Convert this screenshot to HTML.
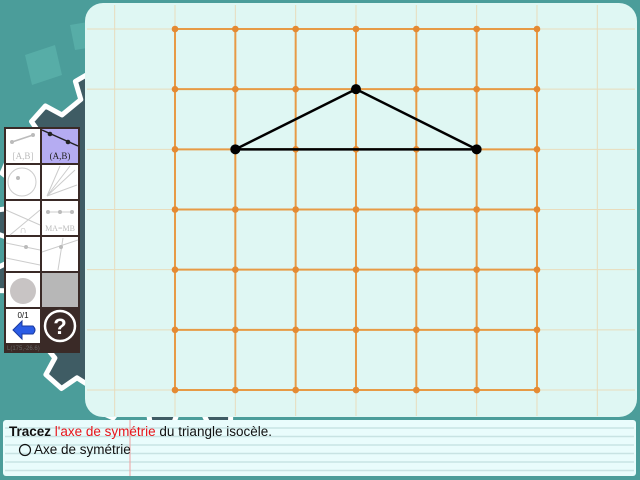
<!DOCTYPE html>
<html><head><meta charset="utf-8">
<style>
html,body{margin:0;padding:0;width:640px;height:480px;overflow:hidden;background:#4a9c9a;font-family:"Liberation Sans",sans-serif}
svg{display:block;overflow:hidden}
</style></head>
<body>
<svg id="root" width="640" height="480" xmlns="http://www.w3.org/2000/svg">
  <rect x="0" y="0" width="640" height="480" fill="#4b9d9a"/>
  <polygon points="25,55 55,45 62,75 32,85" fill="#5cb3ad" opacity="0.7"/>
  <polygon points="70,25 100,20 105,45 75,50" fill="#5cb3ad" opacity="0.7"/>
  <path id="gear" fill="#3f5c64" stroke="#fff" stroke-width="5" stroke-linejoin="round"/>
  <rect x="85" y="3" width="552" height="414" rx="18" fill="#dff7f3"/>
  <g id="grid"></g>
  <g id="tri"></g>

  <g>
    <rect x="4" y="127" width="76" height="226" fill="#3a2a27"/>
    <rect x="6" y="129" width="34" height="34" fill="#fff"/>
    <line x1="12" y1="142" x2="33" y2="135" stroke="#bbb" stroke-width="1.5"/>
    <circle cx="12" cy="142" r="2" fill="#bbb"/><circle cx="33" cy="135" r="2" fill="#bbb"/>
    <text x="23" y="159" font-size="9" fill="#bbb" text-anchor="middle" font-family="Liberation Serif,serif">[A,B]</text>
    <rect x="42" y="129" width="36" height="34" fill="#b5acf2"/>
    <line x1="42" y1="130" x2="78" y2="146" stroke="#222" stroke-width="1.5"/>
    <circle cx="50" cy="134" r="2.3" fill="#222"/><circle cx="68" cy="142" r="2.3" fill="#222"/>
    <text x="60" y="159" font-size="9" fill="#222" text-anchor="middle" font-family="Liberation Serif,serif">(A,B)</text>
    <rect x="6" y="165" width="34" height="34" fill="#fff"/>
    <circle cx="22" cy="182" r="14" fill="none" stroke="#ccc"/><circle cx="18" cy="178" r="2" fill="#bbb"/>
    <rect x="42" y="165" width="36" height="34" fill="#fff"/>
    <path d="M47 196 L75 170 M47 196 L70 166 M47 196 L77 185 M47 196 L60 166" stroke="#ccc" fill="none"/>
    <rect x="6" y="201" width="34" height="34" fill="#fff"/>
    <path d="M6 210 L40 225 M10 235 L40 210" stroke="#ccc"/><text x="23" y="233" font-size="10" fill="#bbb" text-anchor="middle">∩</text>
    <rect x="42" y="201" width="36" height="34" fill="#fff"/>
    <line x1="46" y1="212" x2="74" y2="212" stroke="#ccc"/><circle cx="48" cy="212" r="2" fill="#bbb"/><circle cx="60" cy="212" r="2" fill="#bbb"/><circle cx="72" cy="212" r="2" fill="#bbb"/>
    <text x="60" y="231" font-size="8" fill="#bbb" text-anchor="middle" font-family="Liberation Serif,serif">MA=MB</text>
    <rect x="6" y="237" width="34" height="34" fill="#fff"/>
    <path d="M6 243 L40 250 M6 258 L40 265" stroke="#ccc"/><circle cx="26" cy="247" r="2" fill="#bbb"/>
    <rect x="42" y="237" width="36" height="34" fill="#fff"/>
    <path d="M42 252 L78 240 M58 270 L63 238" stroke="#ccc"/><circle cx="61" cy="247" r="2" fill="#bbb"/>
    <rect x="6" y="273" width="34" height="34" fill="#fff"/>
    <circle cx="23" cy="291" r="13" fill="#c8c4c4"/>
    <rect x="42" y="273" width="36" height="34" fill="#b7b7b7"/>
    <rect x="6" y="309" width="34" height="34" fill="#fff"/>
    <text x="23" y="318" font-size="8" fill="#111" text-anchor="middle">0/1</text>
    <path d="M13 330 L22 321 L22 326 L33 326 Q37 330 33 334 L22 334 L22 339 Z" fill="#2b5ce6" stroke="#1a3aa0" stroke-width="1"/>
    <circle cx="60" cy="326" r="15" fill="none" stroke="#fff" stroke-width="2.5"/>
    <text x="60" y="334" font-size="22" font-weight="bold" fill="#fff" text-anchor="middle">?</text>
    <text x="7" y="350" font-size="6" fill="#666">L(175,-26.6)</text>
  </g>

  <g>
    <rect x="3" y="420" width="633" height="56" rx="3" fill="#e9fcfc"/>
    <g id="ruled" stroke="#c8e3e3" stroke-width="1.5"></g>
    <line x1="130" y1="420" x2="130" y2="476" stroke="#f0a0a0" stroke-width="1"/>
    <text x="9" y="436" font-size="13.5" fill="#111"><tspan font-weight="bold">Tracez</tspan> <tspan fill="#e8141a">l'axe de symétrie</tspan> du triangle isocèle.</text>
    <circle cx="25" cy="450" r="5.5" fill="none" stroke="#111" stroke-width="1.2"/>
    <text x="34" y="454" font-size="13.5" fill="#111">Axe de symétrie</text>
  </g>
</svg>
<script>
const gridCols = [0,1,2,3,4,5,6];
const gridRows = [0,1,2,3,4,5,6];
const triX = [1,3,5];
const triY = [2,1,2];
const ns = "http://www.w3.org/2000/svg";
const X = c => 175 + c*60.33;
const Y = r => 29 + r*60.17;
function mk(tag, attrs, parent){const e=document.createElementNS(ns,tag);for(const k in attrs)e.setAttribute(k,attrs[k]);parent.appendChild(e);return e;}
function gearPath(cx,cy,ro,ri,n,rot){let d='';for(let i=0;i<n;i++){const a=rot+i*2*Math.PI/n,s=Math.PI/n;
const pts=[[ri,a-s*0.55],[ro,a-s*0.35],[ro,a+s*0.35],[ri,a+s*0.55]];
pts.forEach((p,j)=>{d+=(i===0&&j===0?'M':'L')+(cx+p[0]*Math.cos(p[1])).toFixed(1)+' '+(cy+p[0]*Math.sin(p[1])).toFixed(1)+' ';});}
return d+'Z';}
document.getElementById('gear').setAttribute('d',gearPath(180,240,190,172,20,0.1));
const g = document.getElementById('grid');
for (let c=-1;c<=7;c++){const l=mk('line',{x1:X(c),y1:5,x2:X(c),y2:416,stroke:'#e8dcbc','stroke-width':1},g);

}
for (let r=-1;r<=7;r++){const l=mk('line',{x1:87,y1:Y(r),x2:635,y2:Y(r),stroke:'#e8dcbc','stroke-width':1},g);

}
gridCols.forEach(c=>{const l=mk('line',{x1:X(c),y1:Y(0),x2:X(c),y2:Y(6),stroke:'#e79a45','stroke-width':2},g);

});
gridRows.forEach(r=>{const l=mk('line',{x1:X(0),y1:Y(r),x2:X(6),y2:Y(r),stroke:'#e79a45','stroke-width':2},g);

});
gridCols.forEach(c=>gridRows.forEach(r=>{const d=mk('circle',{cx:X(c),cy:Y(r),r:3.3,fill:'#e48a33'},g);

}));
const t = document.getElementById('tri');
const pts = triX.map((x,i)=>X(x)+','+Y(triY[i])).join(' ');
const poly = mk('polygon',{points:pts,fill:'none',stroke:'#000','stroke-width':2.5},t);


triX.forEach((x,i)=>{const p=mk('circle',{cx:X(x),cy:Y(triY[i]),r:5,fill:'#000'},t);

});
const ru = document.getElementById('ruled');
for (let y=428;y<476;y+=8.5){const l=mk('line',{x1:5,y1:y,x2:634,y2:y},ru);

}
</script>
</body></html>
